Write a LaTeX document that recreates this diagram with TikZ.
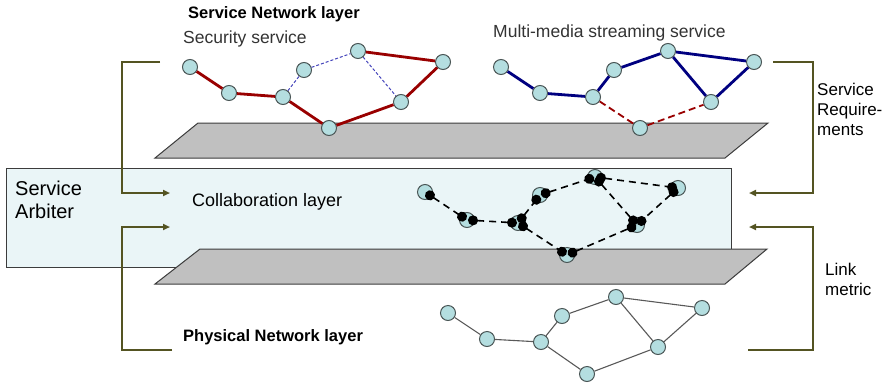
\documentclass[tikz,border=0pt]{standalone}
\usepackage{fontspec}
\setmainfont{Liberation Sans}
\usetikzlibrary{arrows.meta}

\definecolor{nodefill}{HTML}{B4DEE0}
\definecolor{nodeline}{HTML}{4A5656}
\definecolor{secred}{HTML}{990000}
\definecolor{mmblue}{HTML}{000080}
\definecolor{thinblue}{HTML}{4444BB}
\definecolor{planefill}{HTML}{C0C0C0}
\definecolor{planeline}{HTML}{3C3C3C}
\definecolor{boxfill}{HTML}{EAF5F7}
\definecolor{bracket}{HTML}{545422}
\definecolor{labelgray}{HTML}{333333}

\tikzset{
  netnode/.style={circle, draw=nodeline, fill=nodefill, line width=1pt,
                  minimum size=15pt, inner sep=0pt},
  plane/.style={fill=planefill, draw=planeline, line width=1pt},
  secline/.style={draw=secred, line width=2.8pt},
  mmline/.style={draw=mmblue, line width=2.8pt},
  secdash/.style={draw=thinblue, line width=1pt, dash pattern=on 3pt off 2pt},
  mmdash/.style={draw=secred, line width=1.8pt, dash pattern=on 7pt off 4pt},
  physline/.style={draw=black!65, line width=1.1pt},
  collline/.style={draw=black, line width=1.6pt, dash pattern=on 7pt off 5pt,
                   {Circle[length=10pt, width=10pt]}-{Circle[length=10pt, width=10pt]},
                   shorten <=-7pt, shorten >=-7pt},
  feed/.style={draw=bracket, line width=2pt, line join=miter,
               -{Triangle[length=7pt,width=6pt]}},
  layertitle/.style={anchor=base west, inner sep=0pt,
                     font=\fontsize{16.5}{20}\selectfont\bfseries},
  svclabel/.style={anchor=base west, inner sep=0pt, text=labelgray,
                   font=\fontsize{17.5}{21}\selectfont},
  sidelabel/.style={anchor=base west, inner sep=0pt, align=left,
                    font=\fontsize{17}{20}\selectfont},
}

\begin{document}
\begin{tikzpicture}[x=1pt,y=-1pt]
\useasboundingbox (0,0) rectangle (893,386);

% upper plane (service network layer)
\draw[plane] (198,123) -- (768,123) -- (725,158) -- (155,158) -- cycle;

% collaboration layer box
\draw[fill=boxfill, draw=planeline, line width=1pt] (6,168) rectangle (731,267);

% lower plane (physical network layer)
\draw[plane] (200,249) -- (767,249) -- (725,284) -- (155,284) -- cycle;

% labels (multi-line labels are anchored on the baseline of their last line)
\node[layertitle] (tsvc) at (188,18) {Service Network layer};
\node[svclabel] (tsec) at (183,43) {Security service};
\node[svclabel] (tmm) at (493,37) {Multi-media streaming service};
\node[anchor=base west, inner sep=0pt, font=\fontsize{18}{21}\selectfont]
  (tcol) at (192,206) {Collaboration layer};
\node[layertitle] (tphy) at (183,341) {Physical Network layer};
\node[anchor=base west, inner sep=0pt, align=left,
      font=\fontsize{20}{23}\selectfont] (tarb) at (15,218) {Service\\Arbiter};
\node[sidelabel] (treq) at (817,135) {Service\\Require-\\ments};
\node[sidelabel] (tlink) at (825,295) {Link\\metric};

% feedback brackets
\coordinate (lt0) at (160,62);
\coordinate (lt1) at (122,62);
\coordinate (lt2) at (122,193);
\coordinate (lt3) at (170,193);
\draw[feed] (lt0) -- (lt1) -- (lt2) -- (lt3);

\coordinate (lb0) at (172,350);
\coordinate (lb1) at (122,350);
\coordinate (lb2) at (122,227);
\coordinate (lb3) at (170,227);
\draw[feed] (lb0) -- (lb1) -- (lb2) -- (lb3);

\coordinate (rt0) at (773,62);
\coordinate (rt1) at (813,62);
\coordinate (rt2) at (813,193);
\coordinate (rt3) at (749,193);
\draw[feed] (rt0) -- (rt1) -- (rt2) -- (rt3);

\coordinate (rb0) at (748,350);
\coordinate (rb1) at (813,350);
\coordinate (rb2) at (813,227);
\coordinate (rb3) at (749,227);
\draw[feed] (rb0) -- (rb1) -- (rb2) -- (rb3);

% security service overlay
\node[netnode] (s1) at (190,67) {};
\node[netnode] (s2) at (229,93) {};
\node[netnode] (s3) at (283,97) {};
\node[netnode] (s4) at (304,70) {};
\node[netnode] (s5) at (358,51) {};
\node[netnode] (s6) at (443,62) {};
\node[netnode] (s7) at (401,102) {};
\node[netnode] (s8) at (329,128) {};
\draw[secline] (s1) -- (s2);
\draw[secline] (s2) -- (s3);
\draw[secline] (s3) -- (s8);
\draw[secline] (s8) -- (s7);
\draw[secline] (s7) -- (s6);
\draw[secline] (s6) -- (s5);
\draw[secdash] (s3) -- (s4);
\draw[secdash] (s4) -- (s5);
\draw[secdash] (s5) -- (s7);

% multi-media streaming overlay
\node[netnode] (m1) at (501,67) {};
\node[netnode] (m2) at (540,93) {};
\node[netnode] (m3) at (593,97) {};
\node[netnode] (m4) at (614,70) {};
\node[netnode] (m5) at (668,51) {};
\node[netnode] (m6) at (754,62) {};
\node[netnode] (m7) at (711,102) {};
\node[netnode] (m8) at (640,128) {};
\draw[mmline] (m1) -- (m2);
\draw[mmline] (m2) -- (m3);
\draw[mmline] (m3) -- (m4);
\draw[mmline] (m4) -- (m5);
\draw[mmline] (m5) -- (m6);
\draw[mmline] (m6) -- (m7);
\draw[mmline] (m5) -- (m7);
\draw[mmdash] (m3) -- (m8);
\draw[mmdash] (m8) -- (m7);

% collaboration overlay
\node[netnode] (c1) at (425,192) {};
\node[netnode] (c2) at (467,220) {};
\node[netnode] (c3) at (518,223) {};
\node[netnode] (c4) at (540,195) {};
\node[netnode] (c5) at (595,177) {};
\node[netnode] (c6) at (678,188) {};
\node[netnode] (c7) at (637,225) {};
\node[netnode] (c8) at (567,255) {};
\draw[collline] (c1) -- (c2);
\draw[collline] (c2) -- (c3);
\draw[collline] (c3) -- (c4);
\draw[collline] (c4) -- (c5);
\draw[collline] (c5) -- (c6);
\draw[collline] (c6) -- (c7);
\draw[collline] (c5) -- (c7);
\draw[collline] (c3) -- (c8);
\draw[collline] (c8) -- (c7);

% physical network
\node[netnode] (p1) at (448,313) {};
\node[netnode] (p2) at (487,339) {};
\node[netnode] (p3) at (541,342) {};
\node[netnode] (p4) at (562,316) {};
\node[netnode] (p5) at (616,297) {};
\node[netnode] (p6) at (702,308) {};
\node[netnode] (p7) at (658,347) {};
\node[netnode] (p8) at (587,374) {};
\draw[physline] (p1) -- (p2);
\draw[physline] (p2) -- (p3);
\draw[physline] (p3) -- (p4);
\draw[physline] (p4) -- (p5);
\draw[physline] (p5) -- (p6);
\draw[physline] (p6) -- (p7);
\draw[physline] (p5) -- (p7);
\draw[physline] (p3) -- (p8);
\draw[physline] (p8) -- (p7);
\end{tikzpicture}
\end{document}
